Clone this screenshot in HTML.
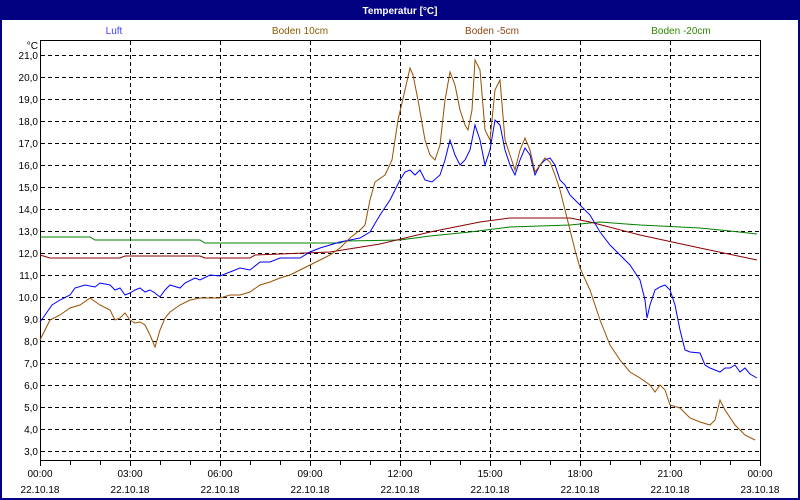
<!DOCTYPE html>
<html><head><meta charset="utf-8"><style>
body{margin:0;background:#fff}
svg{display:block}
text{font-family:"Liberation Sans",sans-serif;font-size:10px}
</style></head><body>
<svg width="800" height="500" xmlns="http://www.w3.org/2000/svg">
<rect x="0" y="0" width="800" height="500" fill="#000080"/>
<rect x="2" y="20" width="796" height="478" fill="#fff"/>
<text x="400" y="14" fill="#fff" font-weight="bold" text-anchor="middle" font-size="11">Temperatur [°C]</text>
<text x="114" y="34" fill="#4040ff" text-anchor="middle">Luft</text>
<text x="300" y="34" fill="#8b5a00" text-anchor="middle">Boden 10cm</text>
<text x="492" y="34" fill="#8b4513" text-anchor="middle">Boden -5cm</text>
<text x="681" y="34" fill="#2e8b00" text-anchor="middle">Boden -20cm</text>
<g stroke="#000" stroke-width="1" stroke-dasharray="4,3" fill="none">
<path d="M41 55.5H760M41 77.5H760M41 99.5H760M41 121.5H760M41 143.5H760M41 165.5H760M41 187.5H760M41 209.5H760M41 231.5H760M41 253.5H760M41 275.5H760M41 297.5H760M41 319.5H760M41 341.5H760M41 363.5H760M41 385.5H760M41 407.5H760M41 429.5H760M41 451.5H760"/>
<path d="M130.5 41V460M220.5 41V460M310.5 41V460M400.5 41V460M490.5 41V460M580.5 41V460M670.5 41V460"/>
</g>
<rect x="40.5" y="40.5" width="720" height="420" fill="none" stroke="#000"/>
<g stroke="#000"><path d="M70.5 461v4M100.5 461v4M130.5 461v5M160.5 461v4M190.5 461v4M220.5 461v5M250.5 461v4M280.5 461v4M310.5 461v5M340.5 461v4M370.5 461v4M400.5 461v5M430.5 461v4M460.5 461v4M490.5 461v5M520.5 461v4M550.5 461v4M580.5 461v5M610.5 461v4M640.5 461v4M670.5 461v5M700.5 461v4M730.5 461v4M760.5 461v5M40.5 461v5"/></g>
<g fill="#000" text-anchor="end">
<text x="38" y="49">°C</text>
<text x="38" y="59">21,0</text><text x="38" y="81">20,0</text><text x="38" y="103">19,0</text><text x="38" y="125">18,0</text><text x="38" y="147">17,0</text><text x="38" y="169">16,0</text><text x="38" y="191">15,0</text><text x="38" y="213">14,0</text><text x="38" y="235">13,0</text><text x="38" y="257">12,0</text><text x="38" y="279">11,0</text><text x="38" y="301">10,0</text><text x="38" y="323">9,0</text><text x="38" y="345">8,0</text><text x="38" y="367">7,0</text><text x="38" y="389">6,0</text><text x="38" y="411">5,0</text><text x="38" y="433">4,0</text><text x="38" y="455">3,0</text>
</g>
<g fill="#000" text-anchor="middle">
<text x="40" y="477">00:00</text><text x="40" y="493">22.10.18</text>
<text x="130" y="477">03:00</text><text x="130" y="493">22.10.18</text>
<text x="220" y="477">06:00</text><text x="220" y="493">22.10.18</text>
<text x="310" y="477">09:00</text><text x="310" y="493">22.10.18</text>
<text x="400" y="477">12:00</text><text x="400" y="493">22.10.18</text>
<text x="490" y="477">15:00</text><text x="490" y="493">22.10.18</text>
<text x="580" y="477">18:00</text><text x="580" y="493">22.10.18</text>
<text x="670" y="477">21:00</text><text x="670" y="493">22.10.18</text>
<text x="760" y="477">00:00</text><text x="760" y="493">23.10.18</text>
</g>
<g fill="none" stroke-width="1">
<polyline stroke="#008000" points="40,237 90,237 95,240 200,240 205,243 340,243 345,241 400,240 430,236 470,232 510,227 570,225 600,222 640,225 700,228 730,231 757,234"/>
<polyline stroke="#8b0000" points="40,255 50,258 120,258 125,256 200,256 205,258 250,258 255,255 330,252 380,244 430,232 480,222 510,218 570,218 590,222 640,235 700,248 757,260"/>
<polyline stroke="#0000ff" points="40,322 45,315 52,305 60,300 70,295 75,288 85,285 95,287 100,283 110,285 115,290 120,288 125,295 130,293 135,290 140,288 145,292 150,290 155,293 160,297 165,290 170,285 180,288 185,283 195,278 200,280 210,275 220,276 230,272 240,268 250,270 260,262 270,262 280,258 300,258 310,252 320,248 330,245 340,242 350,240 360,238 370,232 380,215 390,200 395,190 400,180 405,172 410,170 415,175 420,170 425,180 432,182 440,175 445,160 450,140 455,155 460,165 465,160 470,150 475,125 480,140 485,165 490,150 495,120 500,125 505,150 510,165 515,175 520,160 525,148 530,155 535,175 540,165 545,160 550,158 555,165 560,180 565,185 570,195 580,205 590,215 600,232 610,245 620,255 630,265 640,280 645,300 647,318 650,305 655,290 660,287 665,285 670,290 675,305 680,330 685,350 690,352 700,353 705,365 710,368 715,370 720,372 725,368 730,368 735,365 740,372 745,368 750,374 757,378"/>
<polyline stroke="#9a5000" points="40,340 45,330 50,320 60,315 70,308 80,305 90,298 100,305 110,310 115,320 120,318 125,313 130,320 135,323 140,322 145,325 150,335 155,347 160,330 165,318 170,312 180,305 190,300 200,298 210,298 220,298 230,295 240,295 250,292 260,285 270,282 280,278 290,275 300,270 310,265 320,260 330,255 340,248 350,238 360,230 365,225 370,200 375,182 385,175 392,160 398,120 405,90 410,68 413,75 418,100 425,140 430,155 435,160 440,145 445,100 450,72 455,85 460,110 465,125 468,130 472,110 475,60 480,70 485,130 490,140 495,90 500,80 505,140 510,155 515,170 520,150 525,138 530,150 535,172 540,165 545,158 550,162 555,175 560,190 565,210 570,230 575,250 580,268 590,290 600,320 610,345 620,360 630,372 640,378 650,385 655,392 660,385 665,390 670,405 680,408 690,418 700,422 710,425 715,420 720,400 725,410 735,425 745,435 755,440"/>
</g>
</svg>
</body></html>
